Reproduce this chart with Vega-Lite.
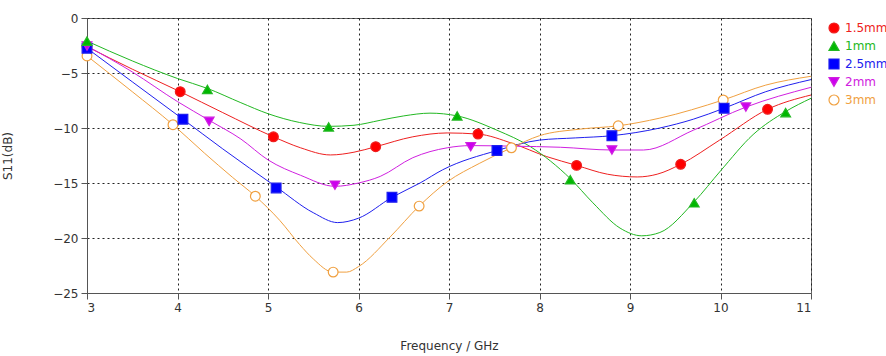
{
  "$schema": "https://vega.github.io/schema/vega-lite/v6.json",
  "autosize": "none",
  "width": 724,
  "height": 275,
  "padding": {"left": 87, "top": 18, "right": 75, "bottom": 63},
  "background": "white",
  "config": {
    "font": "DejaVu Sans",
    "view": {"stroke": "#666666", "strokeWidth": 1},
    "axis": {
      "labelFont": "DejaVu Sans",
      "labelFontSize": 12,
      "labelColor": "#333333",
      "titleFont": "DejaVu Sans",
      "titleFontSize": 12,
      "titleFontWeight": "normal",
      "titleColor": "#333333",
      "domainColor": "#555555",
      "tickColor": "#555555",
      "tickSize": 6,
      "gridColor": "#222222",
      "gridDash": [2, 3],
      "gridOpacity": 1,
      "gridWidth": 1
    }
  },
  "datasets": {
    "curves": [
      {"s": "1.5mm", "f": 3.0, "db": -2.6},
      {"s": "1.5mm", "f": 3.5, "db": -4.65},
      {"s": "1.5mm", "f": 4.03, "db": -6.7},
      {"s": "1.5mm", "f": 4.5, "db": -8.6},
      {"s": "1.5mm", "f": 5.06, "db": -10.8},
      {"s": "1.5mm", "f": 5.36, "db": -11.8},
      {"s": "1.5mm", "f": 5.69, "db": -12.45},
      {"s": "1.5mm", "f": 5.95, "db": -12.2},
      {"s": "1.5mm", "f": 6.19, "db": -11.7},
      {"s": "1.5mm", "f": 6.6, "db": -10.8},
      {"s": "1.5mm", "f": 6.98, "db": -10.45},
      {"s": "1.5mm", "f": 7.32, "db": -10.55},
      {"s": "1.5mm", "f": 7.7, "db": -11.4},
      {"s": "1.5mm", "f": 8.08, "db": -12.6},
      {"s": "1.5mm", "f": 8.41, "db": -13.4},
      {"s": "1.5mm", "f": 8.75, "db": -14.2},
      {"s": "1.5mm", "f": 9.08, "db": -14.45},
      {"s": "1.5mm", "f": 9.3, "db": -14.2},
      {"s": "1.5mm", "f": 9.56, "db": -13.3},
      {"s": "1.5mm", "f": 9.99, "db": -11.1},
      {"s": "1.5mm", "f": 10.52, "db": -8.3},
      {"s": "1.5mm", "f": 11.0, "db": -7.0},

      {"s": "1mm", "f": 3.0, "db": -2.1},
      {"s": "1mm", "f": 3.5, "db": -3.9},
      {"s": "1mm", "f": 4.0, "db": -5.5},
      {"s": "1mm", "f": 4.33, "db": -6.4},
      {"s": "1mm", "f": 4.7, "db": -7.7},
      {"s": "1mm", "f": 5.0, "db": -8.7},
      {"s": "1mm", "f": 5.35, "db": -9.5},
      {"s": "1mm", "f": 5.67, "db": -9.85},
      {"s": "1mm", "f": 5.95, "db": -9.75},
      {"s": "1mm", "f": 6.24, "db": -9.3},
      {"s": "1mm", "f": 6.5, "db": -8.9},
      {"s": "1mm", "f": 6.79, "db": -8.65},
      {"s": "1mm", "f": 7.09, "db": -8.9},
      {"s": "1mm", "f": 7.53, "db": -10.2},
      {"s": "1mm", "f": 7.9, "db": -11.7},
      {"s": "1mm", "f": 8.34, "db": -14.6},
      {"s": "1mm", "f": 8.59, "db": -16.8},
      {"s": "1mm", "f": 8.89, "db": -19.1},
      {"s": "1mm", "f": 9.13, "db": -19.8},
      {"s": "1mm", "f": 9.33, "db": -19.5},
      {"s": "1mm", "f": 9.71, "db": -16.7},
      {"s": "1mm", "f": 10.0, "db": -13.9},
      {"s": "1mm", "f": 10.36, "db": -10.6},
      {"s": "1mm", "f": 10.72, "db": -8.5},
      {"s": "1mm", "f": 11.0, "db": -7.3},

      {"s": "2.5mm", "f": 3.0, "db": -2.75},
      {"s": "2.5mm", "f": 3.5, "db": -5.8},
      {"s": "2.5mm", "f": 4.06, "db": -9.2},
      {"s": "2.5mm", "f": 4.5, "db": -11.9},
      {"s": "2.5mm", "f": 5.09, "db": -15.35},
      {"s": "2.5mm", "f": 5.5, "db": -17.7},
      {"s": "2.5mm", "f": 5.77, "db": -18.6},
      {"s": "2.5mm", "f": 6.0, "db": -18.2},
      {"s": "2.5mm", "f": 6.37, "db": -16.3},
      {"s": "2.5mm", "f": 6.68, "db": -15.0},
      {"s": "2.5mm", "f": 6.93, "db": -13.8},
      {"s": "2.5mm", "f": 7.53, "db": -12.05},
      {"s": "2.5mm", "f": 8.0, "db": -11.1},
      {"s": "2.5mm", "f": 8.4, "db": -10.9},
      {"s": "2.5mm", "f": 8.8, "db": -10.7},
      {"s": "2.5mm", "f": 9.33, "db": -10.0},
      {"s": "2.5mm", "f": 9.7, "db": -9.2},
      {"s": "2.5mm", "f": 10.04, "db": -8.2},
      {"s": "2.5mm", "f": 10.5, "db": -6.7},
      {"s": "2.5mm", "f": 11.0, "db": -5.6},

      {"s": "2mm", "f": 3.0, "db": -2.55},
      {"s": "2mm", "f": 3.5, "db": -4.9},
      {"s": "2mm", "f": 4.0, "db": -7.6},
      {"s": "2mm", "f": 4.35, "db": -9.3},
      {"s": "2mm", "f": 4.7, "db": -11.0},
      {"s": "2mm", "f": 5.0, "db": -12.9},
      {"s": "2mm", "f": 5.36, "db": -14.3},
      {"s": "2mm", "f": 5.74, "db": -15.3},
      {"s": "2mm", "f": 6.0, "db": -15.0},
      {"s": "2mm", "f": 6.24, "db": -14.4},
      {"s": "2mm", "f": 6.6, "db": -12.7},
      {"s": "2mm", "f": 6.98, "db": -11.8},
      {"s": "2mm", "f": 7.24, "db": -11.6},
      {"s": "2mm", "f": 7.7, "db": -11.65},
      {"s": "2mm", "f": 8.23, "db": -11.75},
      {"s": "2mm", "f": 8.8, "db": -12.0},
      {"s": "2mm", "f": 9.15, "db": -12.0},
      {"s": "2mm", "f": 9.7, "db": -10.2},
      {"s": "2mm", "f": 10.28, "db": -8.1},
      {"s": "2mm", "f": 11.0, "db": -6.3},

      {"s": "3mm", "f": 3.0, "db": -3.45},
      {"s": "3mm", "f": 3.5, "db": -6.7},
      {"s": "3mm", "f": 3.95, "db": -9.7},
      {"s": "3mm", "f": 4.3, "db": -12.3},
      {"s": "3mm", "f": 4.61, "db": -14.5},
      {"s": "3mm", "f": 4.86, "db": -16.2},
      {"s": "3mm", "f": 5.13, "db": -18.4},
      {"s": "3mm", "f": 5.35, "db": -20.6},
      {"s": "3mm", "f": 5.5, "db": -21.9},
      {"s": "3mm", "f": 5.72, "db": -23.1},
      {"s": "3mm", "f": 5.87, "db": -23.1},
      {"s": "3mm", "f": 6.0, "db": -22.6},
      {"s": "3mm", "f": 6.35, "db": -19.9},
      {"s": "3mm", "f": 6.67, "db": -17.1},
      {"s": "3mm", "f": 6.98, "db": -14.9},
      {"s": "3mm", "f": 7.34, "db": -13.2},
      {"s": "3mm", "f": 7.69, "db": -11.8},
      {"s": "3mm", "f": 8.0, "db": -10.7},
      {"s": "3mm", "f": 8.45, "db": -10.1},
      {"s": "3mm", "f": 8.87, "db": -9.8},
      {"s": "3mm", "f": 9.33, "db": -9.1},
      {"s": "3mm", "f": 10.03, "db": -7.45},
      {"s": "3mm", "f": 10.5, "db": -6.1},
      {"s": "3mm", "f": 11.0, "db": -5.3}
    ],
    "markers": [
      {"s": "1.5mm", "f": 3.0, "db": -2.6},
      {"s": "1.5mm", "f": 4.03, "db": -6.7},
      {"s": "1.5mm", "f": 5.06, "db": -10.8},
      {"s": "1.5mm", "f": 6.19, "db": -11.7},
      {"s": "1.5mm", "f": 7.32, "db": -10.55},
      {"s": "1.5mm", "f": 8.41, "db": -13.4},
      {"s": "1.5mm", "f": 9.56, "db": -13.3},
      {"s": "1.5mm", "f": 10.52, "db": -8.3},
      {"s": "3mm", "f": 3.0, "db": -3.45},
      {"s": "3mm", "f": 3.95, "db": -9.7},
      {"s": "3mm", "f": 4.86, "db": -16.2},
      {"s": "3mm", "f": 5.72, "db": -23.1},
      {"s": "3mm", "f": 6.67, "db": -17.1},
      {"s": "3mm", "f": 7.69, "db": -11.8},
      {"s": "3mm", "f": 8.87, "db": -9.8},
      {"s": "3mm", "f": 10.03, "db": -7.45},
      {"s": "2.5mm", "f": 3.0, "db": -2.75},
      {"s": "2.5mm", "f": 4.06, "db": -9.2},
      {"s": "2.5mm", "f": 5.09, "db": -15.45},
      {"s": "2.5mm", "f": 6.37, "db": -16.3},
      {"s": "2.5mm", "f": 7.53, "db": -12.05},
      {"s": "2.5mm", "f": 8.8, "db": -10.7},
      {"s": "2.5mm", "f": 10.04, "db": -8.2},
      {"s": "2mm", "f": 3.0, "db": -2.55},
      {"s": "2mm", "f": 4.35, "db": -9.4},
      {"s": "2mm", "f": 5.74, "db": -15.2},
      {"s": "2mm", "f": 7.24, "db": -11.7},
      {"s": "2mm", "f": 8.8, "db": -12.0},
      {"s": "2mm", "f": 10.28, "db": -8.1},
      {"s": "1mm", "f": 3.0, "db": -2.1},
      {"s": "1mm", "f": 4.33, "db": -6.5},
      {"s": "1mm", "f": 5.67, "db": -9.9},
      {"s": "1mm", "f": 7.09, "db": -8.9},
      {"s": "1mm", "f": 8.34, "db": -14.7},
      {"s": "1mm", "f": 9.71, "db": -16.8},
      {"s": "1mm", "f": 10.72, "db": -8.6}
    ]
  },
  "encoding": {
    "x": {
      "field": "f", "type": "quantitative",
      "scale": {"domain": [3, 11], "nice": false, "zero": false},
      "axis": {"values": [3, 4, 5, 6, 7, 8, 9, 10, 11], "title": "Frequency / GHz", "titlePadding": 27, "labelPadding": 3}
    },
    "y": {
      "field": "db", "type": "quantitative",
      "scale": {"domain": [-25, 0], "nice": false, "zero": false},
      "axis": {"values": [-25, -20, -15, -10, -5, 0], "title": "S11(dB)", "titlePadding": 38, "labelPadding": 3}
    }
  },
  "layer": [
    {
      "data": {"name": "curves"},
      "mark": {"type": "line", "interpolate": "monotone", "strokeWidth": 1},
      "encoding": {
        "detail": {"field": "s"},
        "stroke": {
          "field": "s", "type": "nominal",
          "scale": {"domain": ["1.5mm", "1mm", "2.5mm", "2mm", "3mm"], "range": ["#ee2020", "#22b822", "#2020ee", "#d020e0", "#f0a040"]},
          "legend": {
            "title": null,
            "orient": "right",
            "offset": 11,
            "padding": 4,
            "labelFont": "DejaVu Sans",
            "labelFontSize": 12,
            "symbolSize": 100,
            "symbolStrokeWidth": 1.2,
            "rowPadding": 3,
            "labelOffset": 5,
            "labelLimit": 200,
            "encode": {"labels": {"update": {"fill": {"scale": "stroke", "field": "value"}}}}
          }
        }
      }
    },
    {
      "data": {"name": "markers"},
      "mark": {"type": "point", "size": 95, "strokeWidth": 1.2, "opacity": 1, "fillOpacity": 1},
      "encoding": {
        "stroke": {"field": "s", "type": "nominal"},
        "fill": {
          "field": "s", "type": "nominal",
          "scale": {"domain": ["1.5mm", "1mm", "2.5mm", "2mm", "3mm"], "range": ["#ff0000", "#00b800", "#0000ff", "#cc00ee", "#ffffff"]}
        },
        "shape": {
          "field": "s", "type": "nominal",
          "scale": {"domain": ["1.5mm", "1mm", "2.5mm", "2mm", "3mm"], "range": ["circle", "triangle-up", "square", "triangle-down", "circle"]}
        }
      }
    }
  ]
}
